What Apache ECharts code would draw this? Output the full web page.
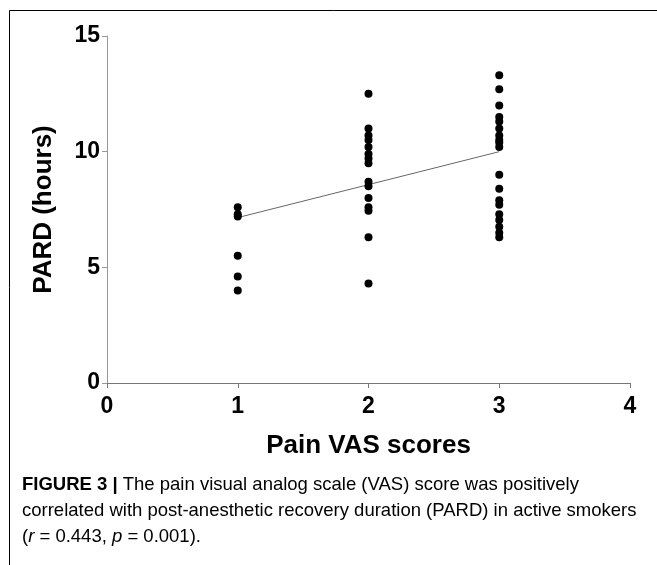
<!DOCTYPE html>
<html>
<head>
<meta charset="utf-8">
<script src="https://cdn.jsdelivr.net/npm/echarts@6/dist/echarts.min.js"></script>
<style>
  html, body { margin: 0; padding: 0; background: #fff; }
  #chart { width: 657px; height: 565px; }
</style>
</head>
<body>
<div id="chart"></div>
<script>
// pain VAS score of each smoker
var vasScores = [
  1, 1, 1, 1, 1, 1,
  2, 2, 2, 2, 2, 2, 2, 2, 2, 2, 2, 2, 2, 2, 2,
  3, 3, 3, 3, 3, 3, 3, 3, 3, 3, 3, 3, 3, 3, 3, 3, 3, 3, 3
];
// PARD (hours), same order as vasScores
var pardHours = [
  7.6, 7.3, 7.2, 5.5, 4.6, 4.0,
  12.5, 11.0, 10.7, 10.5, 10.2, 9.9, 9.7, 9.5, 8.7, 8.5, 8.0, 7.6, 7.45, 6.3, 4.3,
  13.3, 12.7, 12.0, 11.5, 11.3, 11.0, 10.7, 10.5, 10.4, 10.2, 9.0, 8.4, 7.9, 7.7, 7.3, 7.05, 6.75, 6.5, 6.3
];
// regression line end points
var fitX = [1, 3];
var fitY = [7.15, 10.0];
var xTicks = [0, 1, 2, 3, 4];
var yTicks = [0, 5, 10, 15];

var myChart = echarts.init(document.getElementById('chart'));

var points = vasScores.map(function (x, i) { return [x, pardHours[i]]; });
var fit = fitX.map(function (x, i) { return [x, fitY[i]]; });
var font = 'Liberation Sans, Arial, Helvetica, sans-serif';

var option = {
  animation: false,
  grid: { left: 107, right: 27, top: 36, bottom: 182 },
  xAxis: {
    type: 'value',
    min: xTicks[0], max: xTicks[xTicks.length - 1], interval: 1,
    name: 'Pain VAS scores',
    nameLocation: 'middle',
    nameGap: 50,
    nameTextStyle: { fontFamily: font, fontWeight: 'bold', fontSize: 26, color: '#000' },
    axisLine: { lineStyle: { color: '#777', width: 1 } },
    axisTick: { length: 5, lineStyle: { color: '#777' } },
    axisLabel: { margin: 12, fontFamily: font, fontWeight: 'bold', fontSize: 23, color: '#000' },
    splitLine: { show: false }
  },
  yAxis: {
    type: 'value',
    min: yTicks[0], max: yTicks[yTicks.length - 1], interval: 5,
    name: 'PARD (hours)',
    nameLocation: 'middle',
    nameRotate: 90,
    nameGap: 50,
    nameTextStyle: { fontFamily: font, fontWeight: 'bold', fontSize: 26, color: '#000' },
    axisLine: { show: true, lineStyle: { color: '#999', width: 1 } },
    axisTick: { show: true, length: 5, lineStyle: { color: '#999' } },
    axisLabel: { margin: 7, fontFamily: font, fontWeight: 'bold', fontSize: 23, color: '#000' },
    splitLine: { show: false }
  },
  series: [{
    type: 'scatter',
    data: points,
    symbol: 'circle',
    symbolSize: 8,
    itemStyle: { color: '#000', opacity: 1 }
  }, {
    type: 'line',
    data: fit,
    symbol: 'none',
    lineStyle: { color: '#666', width: 1 },
    z: 1
  }],
  graphic: [
    { type: 'line', shape: { x1: 9.5, y1: 10.5, x2: 657, y2: 10.5 }, style: { stroke: '#000', lineWidth: 1 } },
    { type: 'line', shape: { x1: 9.5, y1: 10.5, x2: 9.5, y2: 565 }, style: { stroke: '#000', lineWidth: 1 } },
    {
      type: 'text', left: 22, top: 475,
      style: {
        text: '{b|FIGURE 3 |}{n| The pain visual analog scale (VAS) score was positively}\n' +
              '{n|correlated with post-anesthetic recovery duration (PARD) in active smokers}\n' +
              '{n|(}{i|r}{n| = 0.443, }{i|p}{n| = 0.001).}',
        rich: {
          b: { fontFamily: font, fontWeight: 'bold', fontSize: 18.5, color: '#333', lineHeight: 26 },
          n: { fontFamily: font, fontSize: 18.5, color: '#333', lineHeight: 26 },
          i: { fontFamily: font, fontStyle: 'italic', fontSize: 18.5, color: '#333', lineHeight: 26 }
        }
      }
    }
  ]
};
myChart.setOption(option);
</script>
</body>
</html>
